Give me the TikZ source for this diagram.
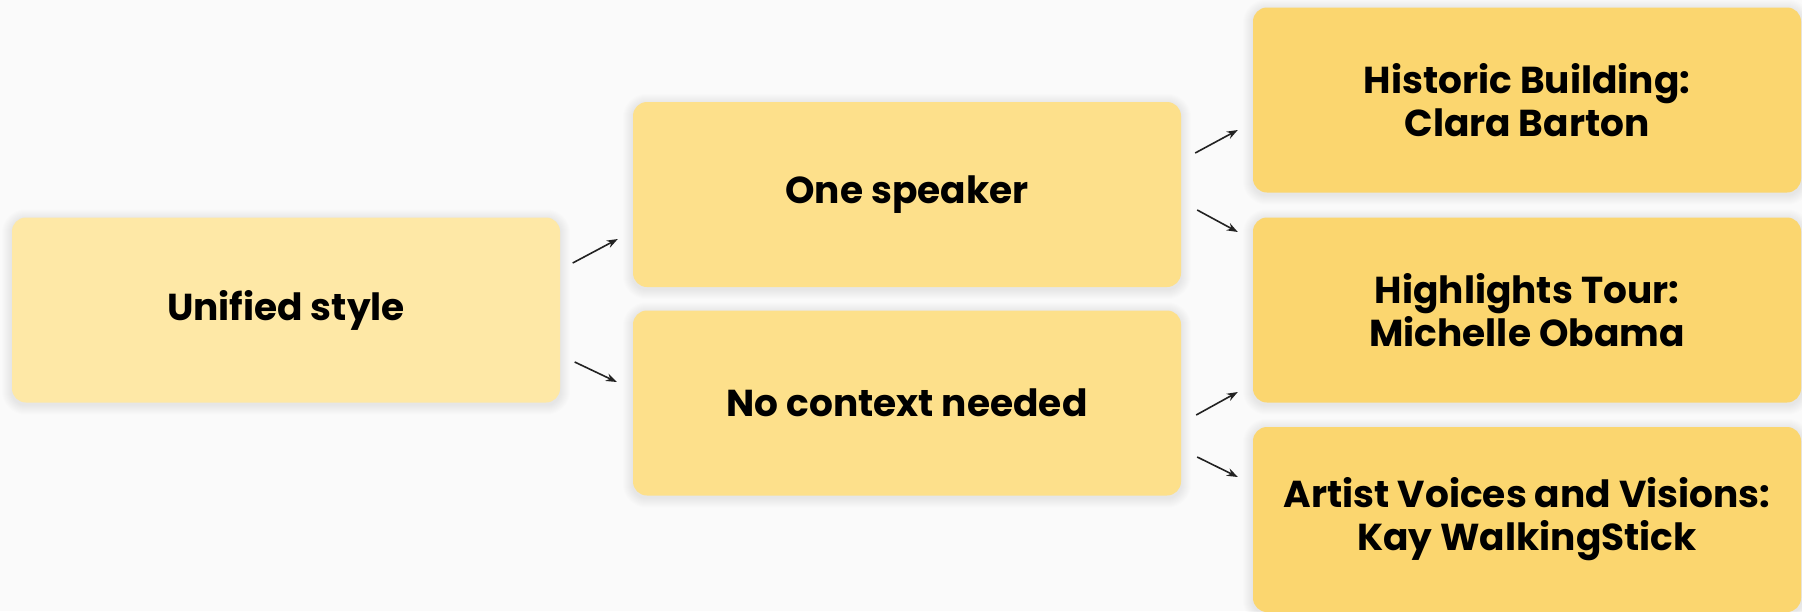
\documentclass[tikz,border=0pt]{standalone}
\usepackage{fontspec}
\setmainfont{Poppins}
\usetikzlibrary{arrows.meta,calc}

\definecolor{pagebg}{HTML}{FAFAFA}
\definecolor{rootfill}{HTML}{FEE8A6}
\definecolor{midfill}{HTML}{FDE08B}
\definecolor{leaffill}{HTML}{FBD66F}
\definecolor{arrowink}{HTML}{222222}

\pgfdeclarelayer{canvas}
\pgfdeclarelayer{haze}
\pgfsetlayers{canvas,haze,main}

\begin{document}
\begin{tikzpicture}[x=1pt,y=-1pt,
  card/.style={rounded corners=14pt, minimum width=548pt, minimum height=185pt,
    inner sep=0pt, align=center, text=black,
    font=\fontsize{37.5}{43}\selectfont\bfseries},
  link/.style={draw=arrowink, line width=1.6pt,
    -{Stealth[length=11pt,width=8pt]}}]

  % canvas
  \begin{pgfonlayer}{canvas}
    \fill[pagebg] (0,0) rectangle (1802,611);
  \end{pgfonlayer}
  \useasboundingbox (0,0) rectangle (1802,611);

  % boxes
  \node[card, fill=rootfill] (root) at (286,310) {Unified style};
  \node[card, fill=midfill]  (one)  at (907,194.5) {One speaker};
  \node[card, fill=midfill]  (noctx) at (907,403) {No context needed};
  \node[card, fill=leaffill] (hist) at (1527,100) {Historic Building:\\Clara Barton};
  \node[card, fill=leaffill] (high) at (1527,310) {Highlights Tour:\\Michelle Obama};
  \node[card, fill=leaffill] (art)  at (1527,519.5) {Artist Voices and Visions:\\Kay WalkingStick};

  % soft shadows under the boxes
  \begin{pgfonlayer}{haze}
    \foreach \n in {root,one,noctx,hist,high,art}
      \foreach \k in {1,...,10}
        \fill[black, opacity=0.007, rounded corners=14+\k]
          ($(\n.south west)+(-\k,\k+2)$) rectangle ($(\n.north east)+(\k,-\k+2)$);
  \end{pgfonlayer}

  % connectors
  \draw[link] ($(root.east)+(12.5,-47)$) -- ($(one.west)+(-15,44.5)$);
  \draw[link] ($(root.east)+(14.5,52)$) -- ($(noctx.west)+(-16,-21)$);
  \draw[link] ($(one.east)+(14,-41.5)$) -- ($(hist.west)+(-15,30)$);
  \draw[link] ($(one.east)+(16,15.5)$) -- ($(high.west)+(-15,-78)$);
  \draw[link] ($(noctx.east)+(15,12)$) -- ($(high.west)+(-15,82)$);
  \draw[link] ($(noctx.east)+(16,54)$) -- ($(art.west)+(-15,-42.5)$);
\end{tikzpicture}
\end{document}
